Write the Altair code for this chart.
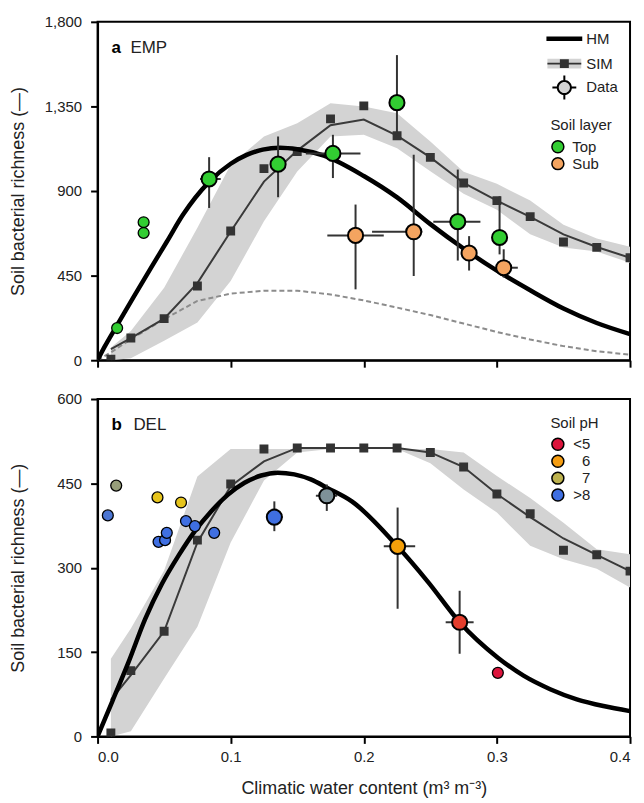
import altair as alt
import pandas as pd

FONT = "Liberation Sans"
GREEN = "#32cd32"
ORANGE = "#f4a460"
BAND = "#d3d3d3"
DARK = "#333333"

# ---------------- shared ----------------
x_ticks = [0.0, 0.1, 0.2, 0.3, 0.4]
sim_x = [0.01, 0.025, 0.05, 0.075, 0.1, 0.125, 0.15, 0.175, 0.2,
         0.225, 0.25, 0.275, 0.3, 0.325, 0.35, 0.375, 0.4]

# ---------------- panel a : EMP ----------------
a_y_ticks = [0, 450, 900, 1350, 1800]
a_sim_square = [6, 118, 221, 395, 687, 1019, 1110, 1284, 1353, 1194, 1079, 943, 849, 764, 629, 600, 545]
a_sim_line = [59, 118, 221, 410, 685, 950, 1115, 1250, 1280, 1195, 1079, 943, 849, 762, 669, 602, 545]
a_band_low = [0, 10, 103, 200, 421, 739, 1004, 1190, 1199, 1128, 1005, 885, 800, 670, 600, 578, 518]
a_band_high = [68, 156, 386, 704, 1040, 1190, 1261, 1367, 1349, 1314, 1164, 1003, 938, 850, 720, 648, 603]

a_hm_x = [0, 0.005, 0.015, 0.027, 0.04, 0.052, 0.064, 0.084, 0.1, 0.112, 0.124, 0.137, 0.15, 0.17,
          0.2, 0.225, 0.25, 0.276, 0.3, 0.325, 0.35, 0.375, 0.4]
a_hm_y = [0, 68, 190, 335, 490, 630, 772, 950, 1045, 1092, 1120, 1130, 1122, 1088,
          980, 866, 724, 589, 476, 372, 275, 198, 139]

a_dash_x = [0, 0.01, 0.025, 0.05, 0.075, 0.1, 0.125, 0.15, 0.175, 0.2, 0.225, 0.25,
            0.275, 0.3, 0.325, 0.35, 0.375, 0.4]
a_dash_y = [0, 41, 112, 218, 315, 354, 370, 370, 350, 318, 280, 240, 195, 150, 110, 75, 48, 29]

a_pt_x = [0.0838, 0.1356, 0.1768, 0.2249, 0.2706, 0.302, 0.1938, 0.2375, 0.2791, 0.3051]
a_pt_y = [964, 1043, 1100, 1370, 737, 653, 664, 683, 570, 492]
a_pt_ylo = [810, 867, 969, 1195, 530, 563, 377, 448, 477, 440]
a_pt_yhi = [1080, 1190, 1199, 1623, 1014, 872, 828, 1093, 660, 590]
a_pt_xlo = [0.077, 0.130, 0.1565, 0.221, 0.2522, 0.298, 0.1726, 0.2062, 0.2755, 0.300]
a_pt_xhi = [0.0925, 0.141, 0.1975, 0.229, 0.2876, 0.306, 0.2150, 0.2440, 0.2827, 0.3157]
a_pt_layer = ["Top"] * 6 + ["Sub"] * 4

a_site_x = [0.0147, 0.0346, 0.0346]
a_site_y = [171, 734, 677]
a_site_layer = ["Top", "Top", "Top"]

layer_names = ["Top", "Sub"]
layer_colors = [GREEN, ORANGE]

# ---------------- panel b : DEL ----------------
b_y_ticks = [0, 150, 300, 450, 600]
b_sim_square = [6, 117, 187, 349, 449, 511, 513, 513, 513, 513, 505, 479, 431, 396, 331, 323, 294]
b_sim_line = [65, 109, 187, 345, 445, 489, 513, 513, 513, 513, 505, 479, 431, 390, 352, 323, 294]
b_band_low = [0, 9, 103, 195, 345, 455, 505, 511, 511, 511, 486, 439, 398, 339, 315, 298, 265]
b_band_high = [138, 192, 295, 462, 511, 511, 511, 511, 511, 511, 511, 505, 463, 424, 380, 333, 324]

b_hm_x = [0, 0.011, 0.0234, 0.0358, 0.0483, 0.0607, 0.0731, 0.0856, 0.098, 0.1104, 0.1229,
          0.1353, 0.1478, 0.1602, 0.1726, 0.191, 0.2249, 0.2485, 0.272, 0.3007, 0.32, 0.34,
          0.36, 0.38, 0.4]
b_hm_y = [0, 62, 133, 209, 271, 321, 365, 401, 430, 451, 464,
          469, 466, 457, 442, 418, 339, 274, 203, 140, 108, 84, 66, 54, 45]

b_site_x = [0.0077, 0.014, 0.045, 0.0627, 0.0458, 0.0507, 0.052, 0.0664, 0.0731, 0.0876, 0.3007]
b_site_y = [393, 446, 425, 416, 346, 349, 362, 383, 374, 362, 113]
b_site_ph = [7.9, 7.3, 6.5, 6.5, 8.2, 8.2, 8.2, 8.2, 8.2, 8.2, 4.8]

b_pt_x = [0.1328, 0.1722, 0.2254, 0.272]
b_pt_y = [390, 428, 338, 203]
b_pt_ylo = [365, 401, 227, 147]
b_pt_yhi = [418, 448, 407, 259]
b_pt_xlo = [0.1266, 0.164, 0.215, 0.2615]
b_pt_xhi = [0.139, 0.180, 0.2386, 0.2825]
b_pt_ph = [8.1, 7.5, 6.0, 5.3]

ph_classes = ["<5", "6", "7", ">8"]
ph_class_colors = ["#dc143c", "#f59d12", "#bdb24e", "#3f6fe2"]
ph_ramp_domain = [5, 6, 6.5, 7, 8]
ph_ramp_colors = ["#dc143c", "#f5a00a", "#e6c41c", "#bdb24e", "#3f6fe2"]

model_names = ["HM", "SIM", "Data"]

# legend glyph paths (unit symbol space)
hm_path = "M-1.8,-0.22L1.8,-0.22L1.8,0.22L-1.8,0.22Z"
band_path = "M-1.7,-0.5L1.7,-0.5L1.7,0.5L-1.7,0.5Z"
sim_path = "M-1.7,-0.1L1.7,-0.1L1.7,0.1L-1.7,0.1ZM-0.45,-0.45L0.45,-0.45L0.45,0.45L-0.45,0.45Z"
data_ring_path = ("M-0.1,-1.2L0.1,-1.2L0.1,1.2L-0.1,1.2Z"
                  "M-1.2,-0.1L1.2,-0.1L1.2,0.1L-1.2,0.1Z"
                  "M0.76,0A0.76,0.76,0,1,1,-0.76,0A0.76,0.76,0,1,1,0.76,0Z")
data_disk_path = "M0.56,0A0.56,0.56,0,1,1,-0.56,0A0.56,0.56,0,1,1,0.56,0Z"

W = 535


def X(field, bottom):
    if bottom:
        ax = alt.Axis(values=x_ticks, format=".1f", title="Climatic water content (m³ m⁻³)")
    else:
        ax = alt.Axis(values=x_ticks, labels=False, title=None)
    return alt.X(field, type="quantitative",
                 scale=alt.Scale(domain=[0, 0.4], nice=False, zero=False), axis=ax)


def Y(field, ymax, ticks):
    return alt.Y(field, type="quantitative",
                 scale=alt.Scale(domain=[0, ymax], nice=False, zero=False),
                 axis=alt.Axis(values=ticks, format=",d",
                               title="Soil bacterial richness (—)", titleX=-70))


def model_layers(ymax, ticks, bottom, hm_x, hm_y, sq, line, lo, hi):
    sim = pd.DataFrame({"x": sim_x, "sq": sq, "line": line, "lo": lo, "hi": hi})
    hm = pd.DataFrame({"x": hm_x, "y": hm_y})
    band = alt.Chart(sim).mark_area(color=BAND, opacity=1, clip=True).encode(
        x=X("x", bottom), y=Y("lo", ymax, ticks), y2="hi")
    simline = alt.Chart(sim).mark_line(color="#3a3a3a", strokeWidth=2, clip=True).encode(
        x=X("x", bottom), y=Y("line", ymax, ticks))
    squares = alt.Chart(sim).mark_square(color=DARK, size=80, opacity=1, clip=True).encode(
        x=X("x", bottom), y=Y("sq", ymax, ticks))
    hmline = alt.Chart(hm).mark_line(color="black", strokeWidth=4.5, interpolate="monotone",
                                     clip=True).encode(
        x=X("x", bottom), y=Y("y", ymax, ticks))
    return band, simline, squares, hmline


def errorbars(ymax, ticks, bottom, px, py, ylo, yhi, xlo, xhi):
    d = pd.DataFrame({"x": px, "y": py, "ylo": ylo, "yhi": yhi, "xlo": xlo, "xhi": xhi})
    v = alt.Chart(d).mark_rule(color=DARK, strokeWidth=2).encode(
        x=X("x", bottom), y=Y("ylo", ymax, ticks), y2="yhi")
    h = alt.Chart(d).mark_rule(color=DARK, strokeWidth=2).encode(
        y=Y("y", ymax, ticks), x=X("xlo", bottom), x2="xhi")
    return v, h


def panel_label(bold, name, nx):
    a = alt.Chart(alt.Data(values=[{"t": bold}])).mark_text(
        align="left", baseline="alphabetic", font=FONT, fontSize=17, fontWeight="bold",
        color="black").encode(x=alt.value(14), y=alt.value(31), text="t:N")
    b = alt.Chart(alt.Data(values=[{"t": name}])).mark_text(
        align="left", baseline="alphabetic", font=FONT, fontSize=17,
        color="#222").encode(x=alt.value(nx), y=alt.value(31), text="t:N")
    return a, b


def glyph_legend(name, path, fill, lx, ly, show_label=True):
    kw = dict(orient="none", legendX=lx, legendY=ly, title=None, symbolSize=400,
              symbolFillColor=fill, symbolStrokeColor="transparent", symbolStrokeWidth=0,
              symbolOpacity=1, labelOffset=12, padding=0)
    if not show_label:
        kw["labelExpr"] = "''"
    return alt.Chart(alt.Data(values=[{"m": name}])).transform_filter("false").mark_point(
        filled=True, fill=fill, stroke="transparent", strokeWidth=0, opacity=1, size=400
    ).encode(shape=alt.Shape("m:N", scale=alt.Scale(domain=[name], range=[path]),
                             legend=alt.Legend(**kw)))


# ---------------- build panel a ----------------
A_MAX = 1800
band_a, simline_a, sq_a, hm_a = model_layers(A_MAX, a_y_ticks, False, a_hm_x, a_hm_y,
                                             a_sim_square, a_sim_line, a_band_low, a_band_high)
dash_a = alt.Chart(pd.DataFrame({"x": a_dash_x, "y": a_dash_y})).mark_line(
    color="#8c8c8c", strokeWidth=2, strokeDash=[5, 3], clip=True).encode(
    x=X("x", False), y=Y("y", A_MAX, a_y_ticks))
ev_a, eh_a = errorbars(A_MAX, a_y_ticks, False, a_pt_x, a_pt_y, a_pt_ylo, a_pt_yhi, a_pt_xlo, a_pt_xhi)

layer_legend = alt.Legend(orient="none", legendX=455, legendY=97, title="Soil layer",
                          symbolSize=144, symbolStrokeColor="black", symbolStrokeWidth=1.5,
                          symbolType="circle", labelOffset=7, padding=0, titlePadding=6,
                          rowPadding=-5)
layer_fill = alt.Fill("layer:N", scale=alt.Scale(domain=layer_names, range=layer_colors),
                      legend=layer_legend)
sites_a = alt.Chart(pd.DataFrame({"x": a_site_x, "y": a_site_y, "layer": a_site_layer})).mark_point(
    shape="circle", filled=True, size=120, stroke="black", strokeWidth=1.3, opacity=1).encode(
    x=X("x", False), y=Y("y", A_MAX, a_y_ticks), fill=layer_fill)
pts_a = alt.Chart(pd.DataFrame({"x": a_pt_x, "y": a_pt_y, "layer": a_pt_layer})).mark_point(
    shape="circle", filled=True, size=230, stroke="black", strokeWidth=2, opacity=1).encode(
    x=X("x", False), y=Y("y", A_MAX, a_y_ticks), fill=layer_fill)
la1, la2 = panel_label("a", "EMP", 33)

LX = 459
leg_hm = glyph_legend(model_names[0], hm_path, "black", LX, 7)
leg_band = glyph_legend("band", band_path, BAND, LX, 32, show_label=False)
leg_sim = glyph_legend(model_names[1], sim_path, DARK, LX, 32)
leg_ring = glyph_legend("ring", data_ring_path, "black", LX, 56, show_label=False)
leg_data = glyph_legend(model_names[2], data_disk_path, BAND, LX, 56)

panel_a = alt.layer(band_a, dash_a, simline_a, sq_a, hm_a, ev_a, eh_a, sites_a, pts_a, la1, la2,
                    leg_hm, leg_band, leg_sim, leg_ring, leg_data).resolve_scale(
    shape="independent").properties(width=W, height=340)

# ---------------- build panel b ----------------
B_MAX = 600
band_b, simline_b, sq_b, hm_b = model_layers(B_MAX, b_y_ticks, True, b_hm_x, b_hm_y,
                                             b_sim_square, b_sim_line, b_band_low, b_band_high)
ev_b, eh_b = errorbars(B_MAX, b_y_ticks, True, b_pt_x, b_pt_y, b_pt_ylo, b_pt_yhi, b_pt_xlo, b_pt_xhi)
ph_color = alt.Color("ph:Q", scale=alt.Scale(domain=ph_ramp_domain, range=ph_ramp_colors,
                                             interpolate="rgb", clamp=True), legend=None)
sites_b = alt.Chart(pd.DataFrame({"x": b_site_x, "y": b_site_y, "ph": b_site_ph})).mark_point(
    shape="circle", filled=True, size=120, stroke="black", strokeWidth=1.3, opacity=1).encode(
    x=X("x", True), y=Y("y", B_MAX, b_y_ticks), color=ph_color)
pts_b = alt.Chart(pd.DataFrame({"x": b_pt_x, "y": b_pt_y, "ph": b_pt_ph})).mark_point(
    shape="circle", filled=True, size=230, stroke="black", strokeWidth=2, opacity=1).encode(
    x=X("x", True), y=Y("y", B_MAX, b_y_ticks), color=ph_color)
ph_legend = alt.Legend(orient="none", legendX=455, legendY=17, title="Soil pH",
                       symbolSize=144, symbolStrokeColor="black", symbolStrokeWidth=1.5,
                       symbolType="circle", labelOffset=25, labelAlign="right", padding=0,
                       titlePadding=6, rowPadding=-5)
ph_leg_layer = alt.Chart(pd.DataFrame({"cls": ph_classes})).transform_filter("false").mark_point(
    shape="circle", filled=True, stroke="black", strokeWidth=1.5, opacity=1).encode(
    fill=alt.Fill("cls:N", scale=alt.Scale(domain=ph_classes, range=ph_class_colors),
                  legend=ph_legend))
lb1, lb2 = panel_label("b", "DEL", 36)

panel_b = alt.layer(band_b, simline_b, sq_b, hm_b, ev_b, eh_b, sites_b, pts_b, lb1, lb2,
                    ph_leg_layer).properties(width=W, height=339)

chart = alt.vconcat(panel_a, panel_b, spacing=22).resolve_scale(
    fill="independent", shape="independent", color="independent"
).properties(
    padding={"left": 1, "top": 4, "right": 4, "bottom": 0}
).configure_view(stroke="black", strokeWidth=2).configure_axis(
    grid=False, domainColor="black", domainWidth=2, tickColor="black", tickWidth=2,
    tickSize=7, labelFont=FONT, labelFontSize=15, labelColor="#222",
    titleFont=FONT, titleFontSize=18, titleFontWeight="normal", titleColor="#222"
).configure_axisY(labelPadding=9).configure_axisX(labelPadding=6, titlePadding=15).configure_legend(
    labelFont=FONT, labelFontSize=15, labelColor="#222", titleFont=FONT, titleFontSize=15,
    titleFontWeight="normal", titleColor="#222"
)

chart.save("out.html", embed_options={"renderer": "svg", "actions": False})
